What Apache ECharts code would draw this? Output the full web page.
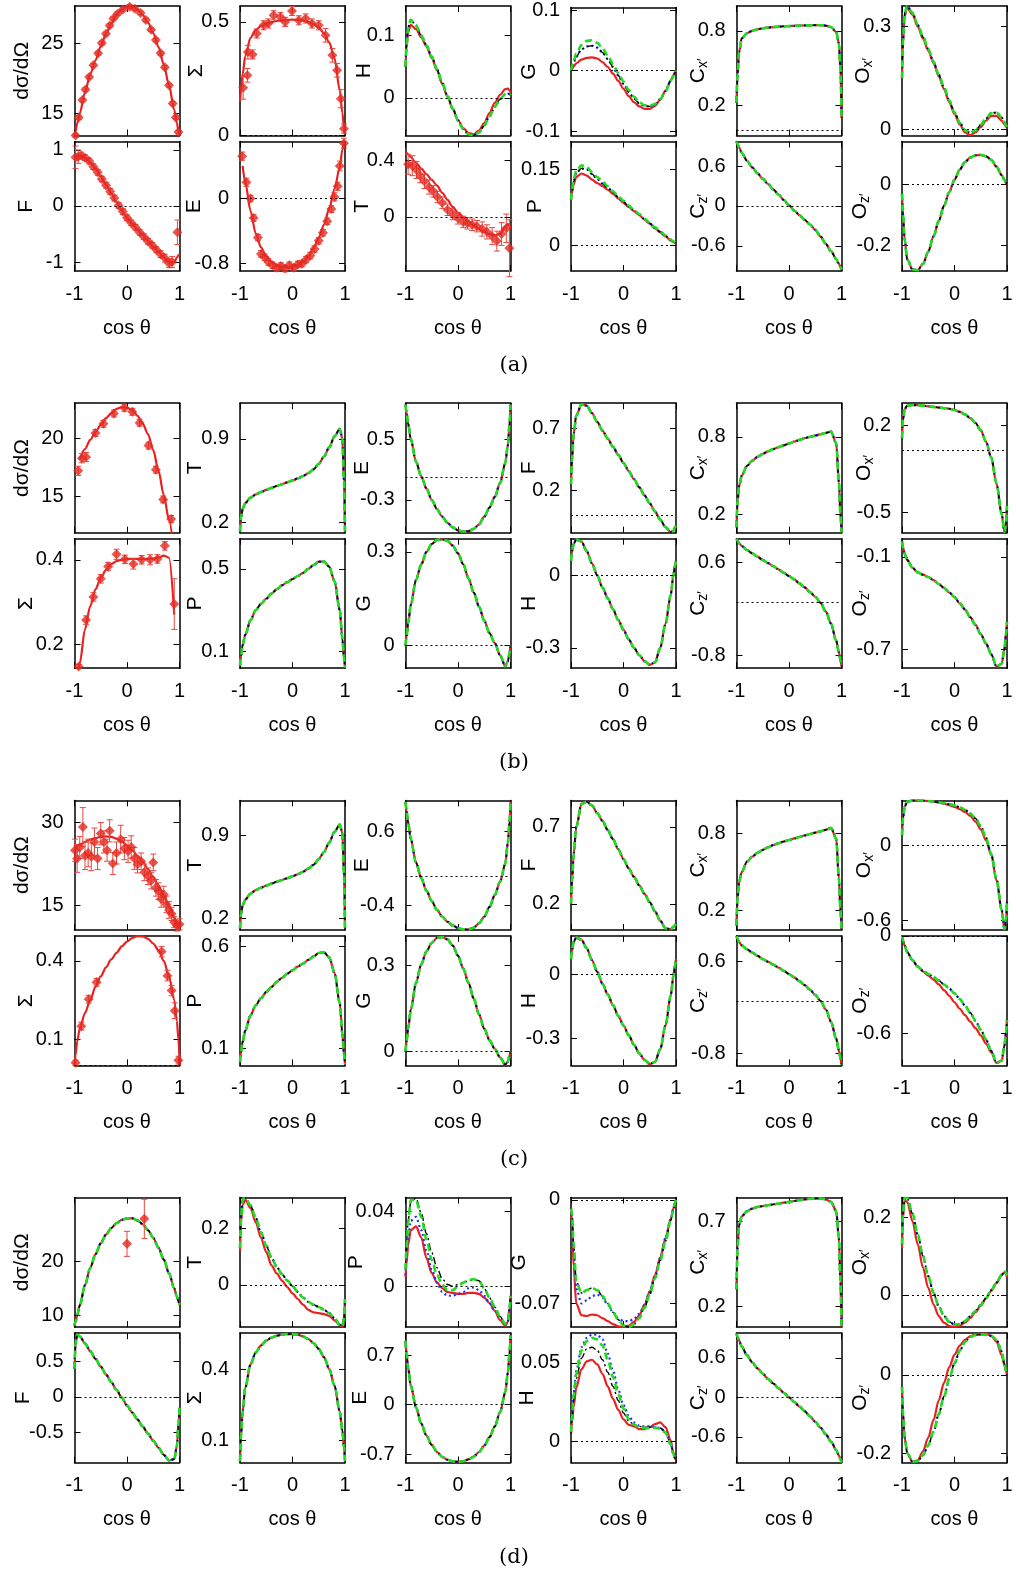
<!DOCTYPE html>
<html>
<head>
<meta charset="utf-8">
<title>Observables versus cos θ</title>
<script src="https://cdn.jsdelivr.net/npm/echarts@6.0.0/dist/echarts.min.js"></script>
<style>
html,body{margin:0;padding:0;background:#ffffff;}
#chart{width:1016px;height:1574px;}
</style>
</head>
<body>
<div id="chart"></div>
<script>
// cos θ grid shared by every model curve
const COS = [-1,-0.98,-0.95,-0.9,-0.8,-0.7,-0.6,-0.5,-0.4,-0.3,-0.2,-0.1,0,0.1,0.2,0.3,0.4,0.5,0.6,0.7,0.8,0.9,0.95,0.98,1];
const X_TICKS = [-1,0,1];

// y tick labels, per panel: top row (6 plots) then bottom row (6 plots)
const TK_A = [[15,25],[0,0.5],[0,0.1],[-0.1,0,0.1],[0.2,0.8],[0,0.3],[-1,0,1],[-0.8,0],[0,0.4],[0,0.15],[-0.6,0,0.6],[-0.2,0]];
const TK_B = [[15,20],[0.2,0.9],[-0.3,0.5],[0.2,0.7],[0.2,0.8],[-0.5,0.2],[0.2,0.4],[0.1,0.5],[0,0.3],[-0.3,0],[-0.8,0.6],[-0.7,-0.1]];
const TK_C = [[15,30],[0.2,0.9],[-0.4,0.6],[0.2,0.7],[0.2,0.8],[-0.6,0],[0.1,0.4],[0.1,0.6],[0,0.3],[-0.3,0],[-0.8,0.6],[-0.6,0]];
const TK_D = [[10,20],[0,0.2],[0,0.04],[-0.07,0],[0.2,0.7],[0,0.2],[-0.5,0,0.5],[0.1,0.4],[-0.7,0,0.7],[0,0.05],[-0.6,0,0.6],[-0.2,0]];

// ---------- panel (a) ----------
const a_dsig = [11.8,12.4,13.5,15.0,18.0,20.6,22.6,24.6,26.4,27.9,29.2,29.9,30.3,30.3,29.9,29.1,28.0,26.5,24.5,22.0,19.0,15.5,13.6,12.5,11.8];
const a_sig = [0.15,0.2,0.27,0.35,0.43,0.465,0.482,0.492,0.499,0.504,0.507,0.509,0.51,0.509,0.506,0.5,0.49,0.475,0.45,0.41,0.34,0.2,0.1,0.04,0.005];
const a_H_red = [0.05,0.08,0.105,0.117,0.11,0.097,0.082,0.064,0.044,0.022,0.002,-0.018,-0.035,-0.048,-0.056,-0.058,-0.052,-0.04,-0.024,-0.008,0.005,0.014,0.015,0.012,0.009];
const a_H_alt = [0.05,0.085,0.112,0.125,0.116,0.1,0.084,0.066,0.046,0.024,0.003,-0.017,-0.036,-0.05,-0.058,-0.06,-0.055,-0.044,-0.029,-0.014,-0.002,0.006,0.007,0.006,0.004];
const a_G_red = [0,0.003,0.007,0.012,0.018,0.021,0.022,0.02,0.014,0.006,-0.005,-0.017,-0.03,-0.042,-0.052,-0.059,-0.063,-0.063,-0.058,-0.048,-0.033,-0.016,-0.008,-0.003,0];
const a_G_mid = [0,0.005,0.013,0.023,0.035,0.04,0.041,0.038,0.03,0.019,0.006,-0.008,-0.022,-0.035,-0.046,-0.054,-0.058,-0.059,-0.056,-0.047,-0.034,-0.017,-0.009,-0.004,0];
const a_G_green = [0,0.007,0.016,0.028,0.042,0.049,0.05,0.046,0.037,0.025,0.011,-0.004,-0.018,-0.032,-0.043,-0.052,-0.057,-0.058,-0.055,-0.047,-0.034,-0.017,-0.009,-0.004,0];
const a_Cx = [0.22,0.45,0.63,0.74,0.78,0.8,0.812,0.82,0.826,0.83,0.833,0.836,0.838,0.84,0.842,0.843,0.844,0.845,0.845,0.842,0.83,0.79,0.7,0.5,0.1];
const a_Ox_red = [0.15,0.25,0.33,0.355,0.335,0.3,0.265,0.23,0.194,0.155,0.118,0.08,0.045,0.015,-0.008,-0.016,-0.008,0.008,0.026,0.04,0.04,0.026,0.016,0.009,0.005];
const a_Ox_alt = [0.15,0.26,0.34,0.36,0.34,0.305,0.27,0.235,0.198,0.16,0.122,0.085,0.05,0.02,-0.002,-0.009,-0.002,0.014,0.032,0.048,0.05,0.035,0.022,0.012,0.006];
const a_F = [0.85,0.87,0.89,0.9,0.86,0.78,0.67,0.53,0.38,0.23,0.07,-0.08,-0.21,-0.32,-0.42,-0.52,-0.62,-0.72,-0.82,-0.92,-1.0,-1.0,-0.92,-0.88,-0.86];
const a_E = [null,null,0.4,0.2,-0.15,-0.43,-0.6,-0.71,-0.78,-0.82,-0.84,-0.845,-0.84,-0.82,-0.78,-0.71,-0.61,-0.48,-0.32,-0.12,0.12,0.38,0.6,0.68,0.7];
const a_T = [0.45,0.45,0.44,0.42,0.38,0.34,0.3,0.26,0.22,0.17,0.12,0.07,0.03,0.0,-0.03,-0.06,-0.085,-0.105,-0.12,-0.13,-0.12,-0.07,-0.05,-0.06,-0.08];
const a_P_red = [0.09,0.105,0.12,0.135,0.142,0.138,0.13,0.123,0.117,0.11,0.102,0.093,0.084,0.076,0.068,0.06,0.051,0.043,0.034,0.026,0.018,0.01,0.007,0.006,0.005];
const a_P_mid = [0.09,0.108,0.126,0.143,0.152,0.15,0.141,0.131,0.122,0.114,0.105,0.095,0.086,0.077,0.069,0.061,0.052,0.044,0.035,0.027,0.019,0.011,0.008,0.006,0.005];
const a_P_green = [0.09,0.11,0.13,0.148,0.158,0.155,0.145,0.135,0.126,0.117,0.107,0.097,0.088,0.079,0.07,0.062,0.053,0.045,0.036,0.028,0.02,0.012,0.008,0.007,0.006];
const a_Cz = [0.97,0.93,0.88,0.8,0.68,0.58,0.49,0.41,0.33,0.25,0.17,0.09,0.01,-0.07,-0.14,-0.21,-0.28,-0.36,-0.46,-0.57,-0.68,-0.8,-0.87,-0.92,-0.96];
const a_Oz = [-0.03,-0.1,-0.18,-0.245,-0.278,-0.28,-0.26,-0.22,-0.17,-0.12,-0.07,-0.025,0.015,0.048,0.073,0.088,0.095,0.096,0.092,0.08,0.058,0.03,0.015,0.007,0.0];

// measured points: [cos θ, value, error]
const a_dsig_pts = [[-0.98,11.8,0.25],[-0.92,14.4,0.25],[-0.85,16.9,0.25],[-0.79,18.4,0.25],[-0.72,20.2,0.25],[-0.64,21.9,0.25],[-0.55,23.6,0.25],[-0.48,25.1,0.25],[-0.4,26.4,0.25],[-0.33,27.6,0.25],[-0.26,28.6,0.25],[-0.18,29.3,0.25],[-0.08,29.9,0.25],[0.05,30.3,0.25],[0.15,30.0,0.25],[0.26,29.4,0.25],[0.36,28.4,0.25],[0.46,27.0,0.25],[0.55,25.5,0.25],[0.64,23.6,0.25],[0.72,21.6,0.25],[0.8,19.0,0.25],[0.87,16.4,0.25],[0.93,14.4,0.25],[0.98,12.3,0.25]];
const a_sig_pts = [[-0.94,0.21,0.05],[-0.86,0.265,0.03],[-0.85,0.367,0.03],[-0.76,0.357,0.02],[-0.68,0.449,0.02],[-0.55,0.485,0.02],[-0.46,0.493,0.02],[-0.36,0.529,0.02],[-0.23,0.522,0.02],[-0.14,0.5,0.02],[-0.01,0.548,0.02],[0.12,0.507,0.02],[0.25,0.515,0.02],[0.37,0.493,0.02],[0.5,0.485,0.02],[0.63,0.441,0.03],[0.76,0.353,0.03],[0.85,0.287,0.03],[0.92,0.162,0.04],[0.98,0.03,0.02]];
const a_F_pts = [[-0.98,0.87,0.2],[-0.93,0.88,0.12],[-0.87,0.9,0.06],[-0.8,0.86,0.05],[-0.72,0.8,0.05],[-0.64,0.7,0.05],[-0.56,0.6,0.05],[-0.48,0.48,0.05],[-0.4,0.37,0.05],[-0.32,0.26,0.05],[-0.24,0.14,0.05],[-0.16,0.01,0.05],[-0.08,-0.1,0.05],[0.0,-0.21,0.05],[0.08,-0.3,0.05],[0.16,-0.38,0.05],[0.24,-0.47,0.05],[0.32,-0.55,0.05],[0.4,-0.63,0.05],[0.48,-0.7,0.05],[0.56,-0.78,0.05],[0.64,-0.86,0.06],[0.72,-0.93,0.07],[0.8,-1.02,0.08],[0.86,-1.0,0.1],[0.96,-0.47,0.22]];
const a_E_pts = [[-0.96,0.52,0.05],[-0.88,0.2,0.05],[-0.8,0.0,0.04],[-0.74,-0.24,0.04],[-0.66,-0.48,0.04],[-0.6,-0.68,0.04],[-0.53,-0.72,0.04],[-0.46,-0.78,0.04],[-0.38,-0.82,0.04],[-0.3,-0.85,0.04],[-0.22,-0.83,0.04],[-0.14,-0.86,0.04],[-0.06,-0.82,0.04],[0.02,-0.85,0.04],[0.1,-0.81,0.04],[0.18,-0.8,0.04],[0.26,-0.75,0.04],[0.34,-0.7,0.04],[0.42,-0.62,0.04],[0.5,-0.52,0.04],[0.58,-0.42,0.04],[0.66,-0.28,0.04],[0.74,-0.13,0.04],[0.8,0.02,0.05],[0.86,0.15,0.05],[0.9,0.4,0.06],[0.98,0.68,0.06]];
const a_T_pts = [[-0.95,0.37,0.07],[-0.87,0.36,0.07],[-0.79,0.33,0.06],[-0.72,0.29,0.05],[-0.64,0.25,0.05],[-0.55,0.21,0.05],[-0.47,0.18,0.04],[-0.39,0.14,0.04],[-0.3,0.1,0.04],[-0.2,0.05,0.04],[-0.1,0.02,0.04],[0.0,-0.01,0.04],[0.1,-0.035,0.04],[0.18,-0.045,0.04],[0.27,-0.055,0.04],[0.36,-0.065,0.04],[0.46,-0.085,0.05],[0.55,-0.105,0.05],[0.65,-0.135,0.06],[0.74,-0.17,0.07],[0.83,-0.12,0.08],[0.92,-0.08,0.1],[0.98,-0.22,0.2]];

// ---------- panel (b) ----------
const b_dsig = [null,null,null,18.2,19.1,19.9,20.6,21.2,21.8,22.2,22.6,22.75,22.7,22.5,22.0,21.3,20.4,19.0,17.2,15.1,12.9,9.8,null,null,null];
const b_T = [0.12,0.24,0.31,0.36,0.405,0.432,0.452,0.47,0.487,0.503,0.518,0.534,0.55,0.567,0.587,0.612,0.643,0.69,0.75,0.83,0.92,0.985,0.9,0.55,0.12];
const b_E = [0.95,0.85,0.7,0.5,0.2,0.01,-0.15,-0.3,-0.42,-0.52,-0.6,-0.66,-0.7,-0.715,-0.71,-0.68,-0.62,-0.52,-0.4,-0.26,-0.08,0.18,0.42,0.68,0.95];
const b_F = [0.25,0.45,0.65,0.8,0.89,0.88,0.82,0.75,0.68,0.615,0.55,0.485,0.42,0.355,0.29,0.225,0.16,0.095,0.03,-0.035,-0.095,-0.135,-0.125,-0.1,-0.08];
const b_Cx = [0.1,0.3,0.42,0.5,0.575,0.615,0.645,0.668,0.688,0.705,0.72,0.734,0.748,0.762,0.776,0.79,0.8,0.81,0.82,0.83,0.84,0.75,0.45,0.2,0.06];
const b_Ox = [0.1,0.25,0.33,0.36,0.365,0.365,0.36,0.355,0.35,0.345,0.34,0.335,0.325,0.31,0.29,0.26,0.22,0.16,0.07,-0.06,-0.27,-0.52,-0.66,-0.6,-0.45];
const b_sig = [null,null,0.11,0.155,0.235,0.29,0.33,0.357,0.376,0.39,0.397,0.4,0.402,0.402,0.402,0.402,0.402,0.403,0.405,0.41,0.405,0.27,null,null,null];
const b_P = [0.03,0.08,0.13,0.18,0.25,0.3,0.33,0.355,0.38,0.4,0.42,0.435,0.45,0.465,0.48,0.5,0.518,0.535,0.535,0.51,0.44,0.3,0.16,0.07,0.02];
const b_G = [0,0.03,0.07,0.13,0.21,0.26,0.3,0.325,0.338,0.34,0.335,0.32,0.295,0.26,0.215,0.17,0.125,0.08,0.04,0.008,-0.03,-0.066,-0.05,-0.025,0];
const b_H = [0.06,0.1,0.13,0.148,0.14,0.1,0.05,0.0,-0.05,-0.095,-0.14,-0.185,-0.225,-0.265,-0.3,-0.33,-0.355,-0.37,-0.36,-0.3,-0.2,-0.08,0.0,0.04,0.06];
const b_Cz = [0.95,0.92,0.88,0.84,0.78,0.73,0.68,0.63,0.585,0.54,0.49,0.44,0.39,0.34,0.28,0.22,0.15,0.08,-0.01,-0.14,-0.32,-0.58,-0.75,-0.87,-0.96];
const b_Oz = [0.0,-0.04,-0.08,-0.12,-0.17,-0.2,-0.215,-0.23,-0.25,-0.275,-0.3,-0.33,-0.36,-0.4,-0.44,-0.49,-0.54,-0.6,-0.66,-0.73,-0.81,-0.79,-0.7,-0.6,-0.52];
const b_dsig_pts = [[-0.93,17.2,0.4],[-0.86,18.3,0.4],[-0.78,18.4,0.4],[-0.6,20.5,0.3],[-0.45,21.3,0.3],[-0.25,22.2,0.3],[-0.05,22.7,0.3],[0.1,22.35,0.3],[0.24,21.4,0.3],[0.41,19.4,0.3],[0.55,17.3,0.3],[0.69,14.7,0.3],[0.84,13.0,0.3]];
const b_sig_pts = [[-0.92,0.147,0.005],[-0.78,0.257,0.01],[-0.64,0.312,0.01],[-0.5,0.355,0.01],[-0.36,0.384,0.01],[-0.2,0.413,0.012],[-0.04,0.401,0.01],[0.12,0.39,0.012],[0.28,0.4,0.01],[0.44,0.4,0.012],[0.58,0.402,0.01],[0.72,0.433,0.01],[0.9,0.295,0.06]];

// ---------- panel (c) ----------
const c_dsig = [25.5,25.6,25.8,26.0,26.5,26.9,27.2,27.4,27.5,27.4,27.1,26.6,25.9,25.0,24.0,22.9,21.6,20.2,18.6,16.9,15.0,12.9,11.8,11.1,10.7];
const c_T = [0.12,0.24,0.31,0.36,0.41,0.44,0.46,0.478,0.495,0.51,0.525,0.54,0.556,0.573,0.594,0.62,0.652,0.7,0.76,0.84,0.93,0.99,0.92,0.58,0.12];
const c_E = [1.0,0.88,0.72,0.5,0.18,-0.03,-0.2,-0.34,-0.46,-0.55,-0.62,-0.67,-0.705,-0.725,-0.725,-0.7,-0.64,-0.55,-0.42,-0.26,-0.08,0.16,0.45,0.72,1.0];
const c_F = [0.2,0.35,0.52,0.7,0.85,0.865,0.84,0.79,0.74,0.68,0.62,0.555,0.49,0.43,0.375,0.32,0.265,0.21,0.15,0.09,0.04,0.035,0.05,0.06,0.07];
const c_Cx = [0.08,0.3,0.42,0.5,0.58,0.62,0.65,0.672,0.692,0.71,0.724,0.738,0.75,0.762,0.774,0.786,0.797,0.808,0.818,0.83,0.845,0.76,0.45,0.2,0.05];
const c_Ox_red = [0.08,0.22,0.31,0.35,0.36,0.36,0.358,0.355,0.35,0.343,0.334,0.322,0.308,0.29,0.268,0.236,0.19,0.128,0.04,-0.08,-0.28,-0.52,-0.67,-0.6,-0.45];
const c_Ox_alt = [0.08,0.22,0.31,0.35,0.36,0.36,0.358,0.355,0.35,0.345,0.338,0.33,0.32,0.305,0.285,0.255,0.215,0.155,0.06,-0.07,-0.27,-0.52,-0.67,-0.6,-0.45];
const c_sig = [0.0,0.04,0.09,0.14,0.2,0.25,0.3,0.34,0.375,0.405,0.43,0.455,0.473,0.487,0.494,0.493,0.484,0.466,0.44,0.4,0.34,0.25,0.17,0.1,0.02];
const c_P = [0.03,0.08,0.13,0.185,0.26,0.31,0.345,0.375,0.4,0.425,0.445,0.465,0.482,0.5,0.515,0.533,0.55,0.567,0.57,0.545,0.47,0.32,0.17,0.07,0.02];
const c_G = [0.0,0.035,0.08,0.145,0.24,0.305,0.35,0.38,0.397,0.4,0.392,0.37,0.335,0.29,0.24,0.185,0.13,0.08,0.04,0.01,-0.02,-0.045,-0.035,-0.015,0.0];
const c_H = [0.07,0.11,0.15,0.17,0.16,0.12,0.065,0.01,-0.045,-0.095,-0.145,-0.195,-0.24,-0.285,-0.33,-0.37,-0.4,-0.42,-0.41,-0.35,-0.24,-0.1,-0.01,0.04,0.07];
const c_Cz = [0.99,0.95,0.9,0.85,0.79,0.74,0.69,0.64,0.6,0.555,0.51,0.46,0.41,0.36,0.3,0.24,0.17,0.09,0.0,-0.13,-0.32,-0.58,-0.76,-0.88,-0.98];
const c_Oz_red = [0.0,-0.03,-0.06,-0.1,-0.15,-0.19,-0.22,-0.245,-0.27,-0.3,-0.335,-0.37,-0.41,-0.45,-0.49,-0.53,-0.57,-0.615,-0.665,-0.72,-0.785,-0.77,-0.68,-0.6,-0.52];
const c_Oz_alt = [0.0,-0.03,-0.06,-0.1,-0.15,-0.19,-0.215,-0.235,-0.255,-0.275,-0.3,-0.325,-0.355,-0.39,-0.43,-0.475,-0.525,-0.58,-0.64,-0.71,-0.785,-0.77,-0.68,-0.6,-0.52];
const c_dsig_pts = [[-0.99,25.0,2],[-0.95,23.5,2.5],[-0.9,25.5,2],[-0.84,29.2,3.5],[-0.8,24.0,2.5],[-0.74,24.5,2.5],[-0.68,23.8,2.5],[-0.62,26.5,2.5],[-0.56,23.5,2],[-0.5,28.0,2],[-0.44,26.5,2],[-0.38,25.0,2],[-0.33,28.5,2],[-0.27,22.6,2],[-0.2,24.5,2],[-0.12,27.0,2.5],[-0.05,25.3,2],[0.02,24.8,2],[0.08,25.6,2],[0.14,23.5,2],[0.2,22.4,1.5],[0.27,23.0,1.5],[0.33,21.0,1.5],[0.4,20.3,1.5],[0.46,19.5,1.5],[0.5,22.8,1.5],[0.55,18.2,1.5],[0.6,17.6,1.5],[0.65,16.2,1.5],[0.7,17.0,1.5],[0.75,15.2,1.5],[0.8,14.2,1.5],[0.85,13.5,1.2],[0.9,12.0,1],[0.95,11.4,1],[1.0,11.6,1]];
const c_sig_pts = [[-0.98,0.01,0.01],[-0.87,0.15,0.015],[-0.73,0.253,0.015],[-0.58,0.318,0.015],[0.66,0.435,0.02],[0.77,0.343,0.02],[0.85,0.286,0.02],[0.91,0.209,0.03],[0.98,0.02,0.015]];

// ---------- panel (d) ----------
const d_dsig = [8.2,8.9,10.0,11.9,15.6,18.8,21.3,23.3,24.9,26.1,27.0,27.6,27.9,27.9,27.5,26.8,25.7,24.3,22.5,20.3,17.8,15.0,13.5,12.6,12.0];
const d_T_red = [0.12,0.22,0.28,0.3,0.27,0.22,0.165,0.115,0.068,0.04,0.015,-0.008,-0.03,-0.05,-0.07,-0.088,-0.097,-0.1,-0.103,-0.11,-0.125,-0.142,-0.145,-0.12,-0.05];
const d_T_alt = [0.13,0.24,0.3,0.305,0.28,0.235,0.185,0.138,0.095,0.063,0.037,0.015,-0.005,-0.025,-0.045,-0.06,-0.07,-0.078,-0.088,-0.1,-0.118,-0.14,-0.145,-0.12,-0.05];
const d_P_red = [0.005,0.012,0.022,0.03,0.032,0.026,0.015,0.007,0.002,-0.001,-0.003,-0.0035,-0.004,-0.004,-0.0035,-0.0035,-0.004,-0.006,-0.009,-0.013,-0.018,-0.021,-0.019,-0.012,-0.006];
const d_P_blue = [0.006,0.015,0.026,0.035,0.037,0.03,0.019,0.009,0.002,-0.003,-0.005,-0.005,-0.004,-0.003,-0.001,-0.0005,-0.002,-0.005,-0.009,-0.013,-0.017,-0.02,-0.019,-0.012,-0.005];
const d_P_black = [0.01,0.022,0.035,0.045,0.047,0.039,0.028,0.018,0.01,0.004,0.001,0.0,0.001,0.002,0.003,0.0035,0.003,-0.001,-0.006,-0.011,-0.016,-0.02,-0.019,-0.012,-0.005];
const d_P_green = [0.009,0.02,0.034,0.046,0.046,0.037,0.025,0.014,0.006,0.001,-0.002,-0.002,0.0,0.002,0.0035,0.0038,0.003,-0.001,-0.006,-0.011,-0.016,-0.02,-0.019,-0.012,-0.005];
const d_G_red = [-0.006,-0.015,-0.045,-0.07,-0.078,-0.0785,-0.0775,-0.078,-0.08,-0.082,-0.084,-0.0855,-0.086,-0.085,-0.0825,-0.078,-0.071,-0.062,-0.051,-0.039,-0.026,-0.013,-0.006,-0.002,0.0];
const d_G_blue = [-0.006,-0.012,-0.035,-0.06,-0.07,-0.068,-0.065,-0.064,-0.066,-0.071,-0.076,-0.08,-0.082,-0.082,-0.0805,-0.077,-0.071,-0.062,-0.051,-0.039,-0.026,-0.013,-0.006,-0.002,0.0];
const d_G_alt = [-0.006,-0.01,-0.03,-0.055,-0.063,-0.061,-0.0595,-0.061,-0.065,-0.07,-0.076,-0.081,-0.085,-0.086,-0.084,-0.08,-0.073,-0.064,-0.053,-0.041,-0.028,-0.014,-0.007,-0.002,0.0];
const d_Cx = [0.3,0.55,0.68,0.73,0.76,0.775,0.785,0.79,0.795,0.8,0.805,0.81,0.815,0.82,0.825,0.83,0.833,0.835,0.835,0.83,0.815,0.76,0.6,0.35,0.08];
const d_Ox_red = [0.12,0.2,0.245,0.24,0.19,0.13,0.07,0.018,-0.025,-0.055,-0.072,-0.081,-0.083,-0.08,-0.072,-0.06,-0.045,-0.028,-0.01,0.01,0.03,0.05,0.058,0.055,0.045];
const d_Ox_alt = [0.13,0.21,0.25,0.25,0.21,0.155,0.1,0.048,0.005,-0.03,-0.055,-0.07,-0.077,-0.076,-0.068,-0.056,-0.042,-0.026,-0.008,0.012,0.032,0.052,0.06,0.058,0.05];
const d_F = [0.4,0.75,0.88,0.86,0.76,0.65,0.54,0.43,0.32,0.21,0.1,-0.01,-0.12,-0.22,-0.32,-0.42,-0.52,-0.62,-0.72,-0.82,-0.9,-0.88,-0.7,-0.4,-0.15];
const d_sig = [0.01,0.12,0.22,0.32,0.42,0.47,0.5,0.52,0.533,0.541,0.546,0.548,0.548,0.545,0.538,0.527,0.51,0.485,0.45,0.4,0.33,0.22,0.14,0.07,0.01];
const d_E = [0.9,0.72,0.52,0.27,-0.04,-0.27,-0.44,-0.57,-0.67,-0.74,-0.78,-0.8,-0.808,-0.8,-0.775,-0.735,-0.67,-0.58,-0.46,-0.31,-0.11,0.17,0.45,0.72,0.98];
const d_H_red = [0.005,0.012,0.022,0.034,0.046,0.051,0.052,0.049,0.043,0.035,0.027,0.02,0.014,0.0105,0.0095,0.0078,0.0078,0.009,0.011,0.012,0.009,0.0005,-0.007,-0.011,-0.012];
const d_H_blue = [0.006,0.016,0.03,0.045,0.06,0.066,0.068,0.068,0.065,0.056,0.045,0.033,0.023,0.016,0.012,0.01,0.0095,0.0095,0.009,0.0085,0.006,-0.002,-0.008,-0.011,-0.012];
const d_H_black = [0.005,0.014,0.026,0.04,0.053,0.059,0.06,0.058,0.052,0.044,0.035,0.026,0.018,0.013,0.0105,0.0095,0.009,0.009,0.009,0.0085,0.006,-0.002,-0.008,-0.011,-0.012];
const d_H_green = [0.006,0.016,0.029,0.043,0.058,0.064,0.066,0.065,0.061,0.052,0.041,0.03,0.021,0.014,0.0105,0.009,0.0085,0.0085,0.0085,0.008,0.0055,-0.002,-0.008,-0.011,-0.012];
const d_Cz = [0.97,0.92,0.86,0.77,0.64,0.53,0.44,0.36,0.28,0.21,0.14,0.07,0.0,-0.07,-0.14,-0.21,-0.29,-0.37,-0.46,-0.56,-0.67,-0.8,-0.88,-0.94,-0.99];
const d_Oz_red = [-0.03,-0.1,-0.16,-0.2,-0.222,-0.218,-0.195,-0.16,-0.115,-0.065,-0.02,0.02,0.052,0.075,0.09,0.099,0.104,0.105,0.105,0.1,0.085,0.05,0.025,0.01,0.0];
const d_Oz_alt = [-0.03,-0.1,-0.16,-0.2,-0.222,-0.22,-0.205,-0.18,-0.145,-0.1,-0.055,-0.01,0.03,0.062,0.085,0.097,0.102,0.103,0.103,0.1,0.09,0.06,0.03,0.012,0.0];
const d_dsig_pts = [[0.0,23.2,2.3],[0.33,27.8,3.6]];

// ---------- styling ----------
const FONT = '"Liberation Sans", Arial, Helvetica, sans-serif';
const LINE = {
  red:   {color:'#ea2020', width:2.2, type:'solid'},
  blue:  {color:'#2030ff', width:2.2, type:[2,3]},
  black: {color:'#000000', width:1.4, type:[7,3,2,3]},
  green: {color:'#1fdc1f', width:2.6, type:[7,4]}
};
const ORDER = ['red','blue','black','green'];
const NAMES = {
  dsig:'dσ/dΩ', sig:'Σ', T:'T', E:'E', F:'F', G:'G', H:'H', P:'P',
  Cx:'{m|C}{s|x′}', Cz:'{m|C}{s|z′}', Ox:'{m|O}{s|x′}', Oz:'{m|O}{s|z′}'
};
const all4 = a => ({red:a, blue:a, black:a, green:a});

// plot table: name, y range, model curves, optional points, label offset
const PANELS = [
  {tag:'(a)', ticks:TK_A, plots:[
    {n:'dsig', r:[11.8,30.4], c:{red:a_dsig}, p:a_dsig_pts, g:52},
    {n:'sig', r:[0,0.57], c:{red:a_sig}, p:a_sig_pts, g:44},
    {n:'H', r:[-0.06,0.147], c:{red:a_H_red, blue:a_H_alt, black:a_H_alt, green:a_H_alt}, g:41},
    {n:'G', r:[-0.107,0.104], c:{red:a_G_red, blue:a_G_mid, black:a_G_mid, green:a_G_green}, g:42},
    {n:'Cx', r:[-0.045,1.0], c:all4(a_Cx), g:38},
    {n:'Ox', r:[-0.017,0.36], c:{red:a_Ox_red, blue:a_Ox_alt, black:a_Ox_alt, green:a_Ox_alt}, g:39},
    {n:'F', r:[-1.16,1.15], c:{red:a_F}, p:a_F_pts, g:48},
    {n:'E', r:[-0.89,0.7], c:{red:a_E}, p:a_E_pts, g:46},
    {n:'T', r:[-0.38,0.53], c:{red:a_T}, p:a_T_pts, g:43.5},
    {n:'P', r:[-0.05,0.205], c:{red:a_P_red, blue:a_P_mid, black:a_P_mid, green:a_P_green}, g:36},
    {n:'Cz', r:[-0.98,0.97], c:all4(a_Cz), g:38.5},
    {n:'Oz', r:[-0.283,0.14], c:all4(a_Oz), g:42}
  ]},
  {tag:'(b)', ticks:TK_B, plots:[
    {n:'dsig', r:[11.8,23.1], c:{red:b_dsig}, p:b_dsig_pts, g:52},
    {n:'T', r:[0.11,1.2], c:all4(b_T), g:45},
    {n:'E', r:[-0.73,0.97], c:all4(b_E), g:43.5},
    {n:'F', r:[-0.14,0.9], c:all4(b_F), g:42},
    {n:'Cx', r:[0.058,1.06], c:all4(b_Cx), g:38.5},
    {n:'Ox', r:[-0.667,0.38], c:all4(b_Ox), g:38},
    {n:'sig', r:[0.143,0.45], c:{red:b_sig}, p:b_sig_pts, g:48.5},
    {n:'P', r:[0.018,0.646], c:all4(b_P), g:45},
    {n:'G', r:[-0.072,0.342], c:all4(b_G), g:41.5},
    {n:'H', r:[-0.384,0.152], c:all4(b_H), g:42},
    {n:'Cz', r:[-0.99,0.95], c:all4(b_Cz), g:38.5},
    {n:'Oz', r:[-0.82,0.018], c:all4(b_Oz), g:42, noZero:true}
  ]},
  {tag:'(c)', ticks:TK_C, plots:[
    {n:'dsig', r:[10.6,34], c:{red:c_dsig}, p:c_dsig_pts, g:52},
    {n:'T', r:[0.106,1.193], c:all4(c_T), g:45},
    {n:'E', r:[-0.73,1.02], c:all4(c_E), g:43.5},
    {n:'F', r:[0.03,0.873], c:all4(c_F), g:42},
    {n:'Cx', r:[0.046,1.06], c:all4(c_Cx), g:38.5},
    {n:'Ox', r:[-0.677,0.36], c:{red:c_Ox_red, blue:c_Ox_alt, black:c_Ox_alt, green:c_Ox_alt}, g:38},
    {n:'sig', r:[0,0.495], c:{red:c_sig}, p:c_sig_pts, g:48.5},
    {n:'P', r:[0.0145,0.651], c:all4(c_P), g:45},
    {n:'G', r:[-0.048,0.404], c:all4(c_G), g:41.5},
    {n:'H', r:[-0.426,0.178], c:all4(c_H), g:42},
    {n:'Cz', r:[-0.99,0.995], c:all4(c_Cz), g:38.5},
    {n:'Oz', r:[-0.8,0], c:{red:c_Oz_red, blue:c_Oz_alt, black:c_Oz_alt, green:c_Oz_alt}, g:42}
  ]},
  {tag:'(d)', ticks:TK_D, plots:[
    {n:'dsig', r:[7.9,31.7], c:all4(d_dsig), p:d_dsig_pts, g:52},
    {n:'T', r:[-0.149,0.307], c:{red:d_T_red, blue:d_T_alt, black:d_T_alt, green:d_T_alt}, g:45},
    {n:'P', r:[-0.0217,0.0473], c:{red:d_P_red, blue:d_P_blue, black:d_P_black, green:d_P_green}, g:49.5},
    {n:'G', r:[-0.086,0.0015], c:{red:d_G_red, blue:d_G_blue, black:d_G_alt, green:d_G_alt}, g:51.5},
    {n:'Cx', r:[0.078,0.84], c:all4(d_Cx), g:38.5},
    {n:'Ox', r:[-0.0835,0.251], c:{red:d_Ox_red, blue:d_Ox_alt, black:d_Ox_alt, green:d_Ox_alt}, g:42},
    {n:'F', r:[-0.93,0.905], c:all4(d_F), g:51.5},
    {n:'sig', r:[0.0045,0.552], c:all4(d_sig), g:45},
    {n:'E', r:[-0.82,1.01], c:all4(d_E), g:45.5},
    {n:'H', r:[-0.0136,0.069], c:{red:d_H_red, blue:d_H_blue, black:d_H_black, green:d_H_green}, g:44},
    {n:'Cz', r:[-0.99,0.975], c:all4(d_Cz), g:38.5},
    {n:'Oz', r:[-0.224,0.107], c:{red:d_Oz_red, blue:d_Oz_alt, black:d_Oz_alt, green:d_Oz_alt}, g:42}
  ]}
];

// ---------- layout ----------
const COL_LEFT = [74.5, 240, 405.5, 571, 736.5, 902];
const BOX_W = 105, BOX_H = 129.5;
const PANEL_TOP = [6, 403.2, 800.4, 1197.6];
const ROW_STEP = 135.5;

const grid = [], xAxis = [], yAxis = [], series = [], graphic = [];
const frameLine = {show:true, onZero:false, lineStyle:{color:'#000', width:1.5}};
const tickStyle = {color:'#000', width:1};
const labelStyle = {fontSize:20, fontFamily:FONT, color:'#000'};

function errorBars(gi, pts) {
  return {
    type:'custom', xAxisIndex:2*gi, yAxisIndex:2*gi, data:pts, z:3,
    encode:{x:0, y:1},
    renderItem(params, api) {
      const x = api.value(0), y = api.value(1), e = api.value(2);
      const hi = api.coord([x, y + e]), lo = api.coord([x, y - e]);
      const hw = 3, st = {stroke:'#e6483f', lineWidth:1};
      return {type:'group', children:[
        {type:'line', shape:{x1:hi[0], y1:hi[1], x2:lo[0], y2:lo[1]}, style:st},
        {type:'line', shape:{x1:hi[0]-hw, y1:hi[1], x2:hi[0]+hw, y2:hi[1]}, style:st},
        {type:'line', shape:{x1:lo[0]-hw, y1:lo[1], x2:lo[0]+hw, y2:lo[1]}, style:st}
      ]};
    }
  };
}

let gi = 0;
PANELS.forEach((pan, pi) => {
  pan.plots.forEach((pl, k) => {
    const ri = Math.floor(k / 6), ci = k % 6;
    const bottomRow = ri === 1;
    const ticks = pan.ticks[k];
    grid.push({left:COL_LEFT[ci], top:PANEL_TOP[pi] + ri*ROW_STEP, width:BOX_W, height:BOX_H});

    xAxis.push({
      gridIndex:gi, type:'value', min:-1, max:1, interval:1, position:'bottom',
      axisLine:frameLine,
      axisTick:{show:true, inside:true, length:6, lineStyle:tickStyle, customValues:X_TICKS},
      axisLabel:Object.assign({show:bottomRow, margin:13, customValues:X_TICKS}, labelStyle),
      splitLine:{show:false},
      name: bottomRow ? 'cos θ' : '', nameLocation:'middle', nameGap:47, nameMoveOverlap:false,
      nameTextStyle:{fontSize:20, fontFamily:FONT, color:'#000'}
    });
    xAxis.push({
      gridIndex:gi, type:'value', min:-1, max:1, interval:1, position:'top',
      axisLine:frameLine,
      axisTick:{show:true, inside:true, length:6, lineStyle:tickStyle, customValues:X_TICKS},
      axisLabel:{show:false}, splitLine:{show:false}
    });

    const rich = pl.n.length === 2 && (pl.n[0] === 'C' || pl.n[0] === 'O');
    yAxis.push({
      gridIndex:gi, type:'value', min:pl.r[0], max:pl.r[1], position:'left',
      axisLine:frameLine,
      axisTick:{show:true, inside:true, length:6, lineStyle:tickStyle, customValues:ticks},
      axisLabel:Object.assign({show:true, margin:11, customValues:ticks}, labelStyle),
      splitLine:{show:false},
      name:NAMES[pl.n], nameLocation:'middle', nameRotate:90, nameMoveOverlap:false,
      nameGap: pl.g - (rich ? 12 : 10.5),
      nameTextStyle:{fontSize:21, fontFamily:FONT, color:'#000',
        rich:{ m:{fontSize:21, fontFamily:FONT, color:'#000', lineHeight:24},
               s:{fontSize:14, fontFamily:FONT, color:'#000', lineHeight:24, verticalAlign:'bottom'} }}
    });
    yAxis.push({
      gridIndex:gi, type:'value', min:pl.r[0], max:pl.r[1], position:'right',
      axisLine:frameLine,
      axisTick:{show:true, inside:true, length:6, lineStyle:tickStyle, customValues:ticks},
      axisLabel:{show:false}, splitLine:{show:false}
    });

    // model curves
    let first = true;
    ORDER.forEach(key => {
      const arr = pl.c[key];
      if (!arr) return;
      const data = [];
      COS.forEach((x, i) => { if (arr[i] !== null) data.push([x, arr[i]]); });
      const s = {
        type:'line', xAxisIndex:2*gi, yAxisIndex:2*gi, data,
        showSymbol:false, smooth:0.3, smoothMonotone:'x', clip:true, silent:true,
        lineStyle:LINE[key], z:2
      };
      if (first && !pl.noZero && pl.r[0] <= 0 && pl.r[1] >= 0) {
        s.markLine = {silent:true, symbol:'none', label:{show:false},
          lineStyle:{color:'#000', type:[2,3], width:1}, data:[{yAxis:0}]};
      }
      first = false;
      series.push(s);
    });

    // measured points with error bars
    if (pl.p) {
      series.push(errorBars(gi, pl.p));
      series.push({
        type:'scatter', xAxisIndex:2*gi, yAxisIndex:2*gi,
        data:pl.p.map(q => [q[0], q[1]]), symbol:'diamond', symbolSize:10,
        itemStyle:{color:'#e42a22'}, clip:false, silent:true, z:4
      });
    }
    gi++;
  });

  graphic.push({
    type:'text', x:514, y:PANEL_TOP[pi] + 359.5,
    style:{text:pan.tag, font:'21px "DejaVu Serif", serif', fill:'#000',
      align:'center', verticalAlign:'middle', textAlign:'center', textVerticalAlign:'middle'}
  });
});

const chart = echarts.init(document.getElementById('chart'), null, {renderer:'canvas'});
chart.setOption({
  animation:false,
  backgroundColor:'#ffffff',
  grid, xAxis, yAxis, series, graphic
});
</script>
</body>
</html>
